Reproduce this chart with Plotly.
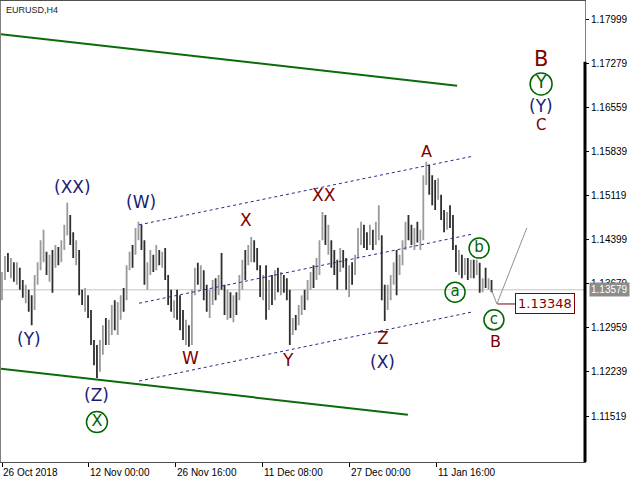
import plotly.graph_objects as go

# ---------------- data ----------------
OPEN = [1.1349,1.1380,1.1410,1.1387,1.1400,1.1371,1.1390,1.1367,1.1341,1.1354,
        1.1333,1.1328,1.1374,1.1397,1.1423,1.1415,1.1377,1.1410,1.1400,1.1423,
        1.1407,1.1429,1.1456,1.1475,1.1446,1.1403,1.1420,1.1354,1.1328,1.1345,
        1.1318,1.1273,1.1263,1.1230,1.1256,1.1305,1.1273,1.1292,1.1335,1.1292,
        1.1315,1.1354,1.1345,1.1394,1.1423,1.1420,1.1446,1.1459,1.1433,1.1364,
        1.1390,1.1410,1.1397,1.1420,1.1398,1.1420,1.1377,1.1349,1.1318,1.1351,
        1.1341,1.1318,1.1273,1.1296,1.1273,1.1354,1.1397,1.1364,1.1387,1.1358,
        1.1318,1.1341,1.1371,1.1354,1.1371,1.1361,1.1315,1.1348,1.1312,1.1348,
        1.1345,1.1364,1.1413,1.1403,1.1410,1.1433,1.1420,1.1394,1.1348,1.1390,
        1.1331,1.1374,1.1348,1.1387,1.1358,1.1377,1.1371,1.1351,1.1289,1.1312,
        1.1305,1.1322,1.1351,1.1345,1.1361,1.1390,1.1380,1.1390,1.1446,1.1472,
        1.1423,1.1433,1.1416,1.1400,1.1394,1.1416,1.1403,1.1354,1.1397,1.1387,
        1.1416,1.1439,1.1459,1.1446,1.1436,1.1452,1.1436,1.1459,1.1439,1.1358,
        1.1331,1.1348,1.1371,1.1403,1.1387,1.1403,1.1429,1.1472,1.1459,1.1429,
        1.1462,1.1429,1.1446,1.1534,1.1554,1.1537,1.1529,1.1511,1.1508,1.1482,
        1.1459,1.1488,1.1469,1.1426,1.1387,1.1410,1.1387,1.1403,1.1382,1.1400,
        1.1387,1.1397,1.1358,1.1377,1.1361,1.1371]
HIGH = [1.1387,1.1413,1.1418,1.1410,1.1403,1.1403,1.1394,1.1374,1.1366,1.1358,
        1.1349,1.1382,1.1403,1.1439,1.1456,1.1420,1.1415,1.1423,1.1431,1.1428,
        1.1439,1.1464,1.1500,1.1480,1.1452,1.1439,1.1423,1.1358,1.1361,1.1349,
        1.1325,1.1276,1.1268,1.1276,1.1300,1.1312,1.1309,1.1333,1.1341,1.1338,
        1.1349,1.1361,1.1398,1.1420,1.1431,1.1459,1.1469,1.1464,1.1439,1.1403,
        1.1423,1.1415,1.1431,1.1423,1.1420,1.1426,1.1382,1.1358,1.1341,1.1358,
        1.1349,1.1325,1.1309,1.1300,1.1358,1.1394,1.1402,1.1398,1.1390,1.1366,
        1.1358,1.1374,1.1377,1.1382,1.1418,1.1366,1.1358,1.1354,1.1349,1.1354,
        1.1382,1.1407,1.1423,1.1431,1.1444,1.1439,1.1426,1.1398,1.1382,1.1398,
        1.1374,1.1382,1.1390,1.1394,1.1387,1.1382,1.1377,1.1358,1.1312,1.1317,
        1.1333,1.1349,1.1358,1.1374,1.1387,1.1398,1.1410,1.1439,1.1485,1.1480,
        1.1464,1.1439,1.1423,1.1407,1.1426,1.1423,1.1410,1.1398,1.1403,1.1415,
        1.1459,1.1469,1.1464,1.1452,1.1464,1.1456,1.1469,1.1496,1.1447,1.1366,
        1.1366,1.1382,1.1403,1.1423,1.1415,1.1439,1.1469,1.1480,1.1464,1.1459,
        1.1469,1.1456,1.1545,1.1567,1.1562,1.1545,1.1537,1.1540,1.1513,1.1488,
        1.1485,1.1496,1.1480,1.1431,1.1423,1.1415,1.1410,1.1410,1.1407,1.1407,
        1.1407,1.1402,1.1377,1.1394,1.1377,1.1374]
LOW = [1.1341,1.1374,1.1387,1.1377,1.1371,1.1366,1.1358,1.1345,1.1336,1.1322,
       1.1300,1.1325,1.1366,1.1390,1.1403,1.1382,1.1371,1.1353,1.1394,1.1398,
       1.1403,1.1423,1.1447,1.1431,1.1410,1.1398,1.1349,1.1333,1.1322,1.1312,
       1.1268,1.1235,1.1214,1.1224,1.1252,1.1268,1.1268,1.1284,1.1292,1.1284,
       1.1309,1.1322,1.1341,1.1390,1.1394,1.1415,1.1439,1.1423,1.1366,1.1358,
       1.1382,1.1387,1.1390,1.1398,1.1394,1.1374,1.1333,1.1322,1.1312,1.1309,
       1.1292,1.1276,1.1268,1.1265,1.1268,1.1349,1.1366,1.1358,1.1341,1.1322,
       1.1312,1.1333,1.1341,1.1349,1.1358,1.1317,1.1309,1.1312,1.1305,1.1317,
       1.1341,1.1358,1.1374,1.1398,1.1403,1.1403,1.1390,1.1346,1.1341,1.1309,
       1.1325,1.1333,1.1341,1.1354,1.1349,1.1353,1.1341,1.1268,1.1284,1.1292,
       1.1300,1.1317,1.1325,1.1341,1.1358,1.1361,1.1374,1.1382,1.1439,1.1431,
       1.1415,1.1394,1.1382,1.1358,1.1387,1.1394,1.1358,1.1346,1.1366,1.1382,
       1.1410,1.1431,1.1426,1.1423,1.1431,1.1423,1.1431,1.1439,1.1341,1.1307,
       1.1325,1.1341,1.1366,1.1349,1.1382,1.1398,1.1423,1.1439,1.1431,1.1423,
       1.1435,1.1423,1.1439,1.1529,1.1513,1.1496,1.1488,1.1505,1.1472,1.1452,
       1.1456,1.1459,1.1423,1.1387,1.1382,1.1377,1.1382,1.1374,1.1377,1.1377,
       1.1382,1.1353,1.1354,1.1361,1.1358,1.1354]
CLOSE = [1.1380,1.1407,1.1390,1.1403,1.1374,1.1397,1.1361,1.1348,1.1361,1.1325,
         1.1312,1.1377,1.1400,1.1433,1.1446,1.1387,1.1410,1.1403,1.1426,1.1403,
         1.1433,1.1459,1.1488,1.1439,1.1416,1.1433,1.1354,1.1338,1.1354,1.1315,
         1.1276,1.1240,1.1227,1.1268,1.1296,1.1273,1.1305,1.1328,1.1299,1.1333,
         1.1345,1.1328,1.1394,1.1415,1.1398,1.1452,1.1464,1.1429,1.1371,1.1397,
         1.1416,1.1390,1.1426,1.1403,1.1415,1.1380,1.1338,1.1328,1.1338,1.1315,
         1.1299,1.1282,1.1302,1.1270,1.1351,1.1387,1.1371,1.1394,1.1348,1.1328,
         1.1351,1.1367,1.1348,1.1374,1.1361,1.1322,1.1351,1.1318,1.1345,1.1325,
         1.1377,1.1400,1.1380,1.1426,1.1439,1.1410,1.1397,1.1354,1.1374,1.1315,
         1.1367,1.1341,1.1384,1.1361,1.1380,1.1358,1.1348,1.1276,1.1309,1.1299,
         1.1328,1.1345,1.1331,1.1367,1.1382,1.1367,1.1403,1.1433,1.1475,1.1439,
         1.1456,1.1400,1.1387,1.1364,1.1420,1.1400,1.1364,1.1390,1.1374,1.1410,
         1.1452,1.1462,1.1433,1.1426,1.1459,1.1429,1.1464,1.1488,1.1349,1.1317,
         1.1358,1.1377,1.1398,1.1358,1.1410,1.1433,1.1462,1.1446,1.1436,1.1452,
         1.1439,1.1449,1.1537,1.1557,1.1521,1.1505,1.1496,1.1534,1.1478,1.1459,
         1.1480,1.1465,1.1429,1.1394,1.1416,1.1384,1.1403,1.1380,1.1400,1.1384,
         1.1402,1.1358,1.1374,1.1364,1.1374,1.1358]

TICK_POS = [0, 29.3, 58.6, 87.9, 117.2, 146.5]
TICK_LABELS = ["26 Oct 2018", "12 Nov 00:00", "26 Nov 16:00",
               "11 Dec 08:00", "27 Dec 00:00", "11 Jan 16:00"]
PRICE_TICKS = [1.17999, 1.17279, 1.16559, 1.15839, 1.15119,
               1.14399, 1.13679, 1.12959, 1.12239, 1.11519]
BID = 1.13579
TARGET = 1.13348
Y_RANGE = [1.10769, 1.18293]
X_RANGE = [-0.34, 196.5]
SCALE_BAR_TOP = 1.1730

# trend lines (bar index, price)
GREEN_LINES = [((-0.34, 1.1775), (153.4, 1.1691)),
               ((-0.34, 1.1229), (136.8, 1.1154))]
CHANNEL = [((46.2, 1.1464), (158.7, 1.1576)),
           ((46.2, 1.1336), (158.7, 1.1449)),
           ((46.2, 1.1209), (158.7, 1.1322))]
PROJ_X = [165, 166.8, 176.9]
PROJ_Y = [BID, TARGET, 1.1459]

NAVY_LABELS = [("(XX)", 23.9, 1.1526), ("(W)", 46.8, 1.1502), ("(Y)", 9.1, 1.1278),
               ("(Z)", 32.0, 1.1186), ("(X)", 128.4, 1.1240), ("(Y)", 181.7, 1.1658)]
RED_LABELS = [("X", 82.2, 1.1472, 17), ("XX", 108.5, 1.1513, 17), ("W", 63.4, 1.1247, 17),
              ("Y", 96.4, 1.1243, 17), ("Z", 128.4, 1.1279, 17), ("A", 143.2, 1.1584, 16),
              ("B", 166.5, 1.1274, 16), ("B", 181.7, 1.1735, 21), ("C", 181.7, 1.1627, 15)]
CIRCLED = [("X", 32.0, 1.1142, 21, 16), ("Y", 181.7, 1.1694, 22, 17),
           ("a", 152.7, 1.1354, 20, 15), ("b", 160.8, 1.1426, 20, 15),
           ("c", 165.8, 1.1309, 20, 15)]

NAVY = "#1c1c78"
MAROON = "#800000"
GREEN = "#006400"
FONT = "DejaVu Sans"
TFONT = "Liberation Sans"

fig = go.Figure()
fig.add_trace(go.Ohlc(
    x=list(range(len(OPEN))), open=OPEN, high=HIGH, low=LOW, close=CLOSE,
    increasing=dict(line=dict(color="#9a9a9a", width=1.8)),
    decreasing=dict(line=dict(color="#2e2e2e", width=1.8)),
    tickwidth=0.2, hoverinfo="skip", showlegend=False))

shapes = []
shapes.append(dict(type="line", xref="paper", x0=0, x1=1, yref="y", y0=BID, y1=BID,
                   line=dict(color="#c4c4c4", width=1), layer="below"))
for (a, b) in GREEN_LINES:
    shapes.append(dict(type="line", xref="x", yref="y", x0=a[0], y0=a[1], x1=b[0], y1=b[1],
                       line=dict(color="#0b6b0b", width=2)))
for (a, b) in CHANNEL:
    shapes.append(dict(type="line", xref="x", yref="y", x0=a[0], y0=a[1], x1=b[0], y1=b[1],
                       line=dict(color="#2a2a8a", width=1, dash="dot")))
shapes.append(dict(type="line", xref="x", yref="y", x0=PROJ_X[1] + 0.2, x1=173.0,
                   y0=TARGET, y1=TARGET, line=dict(color=MAROON, width=1)))
# price-scale bar on the right edge
shapes.append(dict(type="line", xref="paper", yref="y", x0=1, x1=1,
                   y0=Y_RANGE[0], y1=SCALE_BAR_TOP, xanchor=1, line=dict(color="black", width=3)))
fig.update_layout(shapes=shapes)

fig.add_trace(go.Scatter(x=PROJ_X, y=PROJ_Y, mode="lines", line=dict(color="#8a929c", width=1),
                         hoverinfo="skip", showlegend=False))

for txt, x, y, size, fs in CIRCLED:
    fig.add_trace(go.Scatter(x=[x], y=[y], mode="markers+text", text=[txt],
                             textposition="middle center",
                             marker=dict(symbol="circle-open", size=size, color=GREEN,
                                         line=dict(color=GREEN, width=1.5)),
                             textfont=dict(family=FONT, size=fs, color=GREEN),
                             cliponaxis=False, hoverinfo="skip", showlegend=False))

ann = []
for txt, x, y in NAVY_LABELS:
    ann.append(dict(text=txt, x=x, y=y, xref="x", yref="y", showarrow=False,
                    font=dict(family=FONT, size=17, color=NAVY)))
for txt, x, y, fs in RED_LABELS:
    ann.append(dict(text=txt, x=x, y=y, xref="x", yref="y", showarrow=False,
                    font=dict(family=FONT, size=fs, color=MAROON)))
ann.append(dict(text="1.13348", x=173.0, y=TARGET, xref="x", yref="y", xanchor="left",
                showarrow=False, bordercolor=MAROON, borderwidth=1, borderpad=2,
                bgcolor="white", font=dict(family=FONT, size=13, color=MAROON)))
ann.append(dict(text="EURUSD,H4", x=0, y=1, xref="paper", yref="paper", xanchor="left",
                yanchor="top", xshift=3, yshift=-2, showarrow=False,
                font=dict(family=TFONT, size=9, color="#222222")))
for p, lab in zip(TICK_POS, TICK_LABELS):
    ann.append(dict(text=lab, x=p, y=0, xref="x", yref="paper", xanchor="left",
                    yanchor="top", yshift=-3, xshift=-1, showarrow=False,
                    font=dict(family=TFONT, size=10, color="black")))
ann.append(dict(text="1.13579", x=1, y=BID, xref="paper", yref="y", xanchor="left",
                xshift=4, showarrow=False, bgcolor="#8c8c8c", borderpad=1,
                font=dict(family=TFONT, size=10, color="white")))
fig.update_layout(annotations=ann)

fig.update_layout(
    width=640, height=480, margin=dict(l=1, r=55, t=1, b=18),
    plot_bgcolor="white", paper_bgcolor="white",
    xaxis=dict(range=X_RANGE, tickvals=TICK_POS, showticklabels=False, ticks="outside",
               ticklen=4, tickcolor="black", showgrid=False, zeroline=False,
               showline=True, linecolor="#505050", mirror=True,
               rangeslider=dict(visible=False)),
    yaxis=dict(range=Y_RANGE, side="right", tickvals=PRICE_TICKS,
               ticktext=[f"{v:.5f}" for v in PRICE_TICKS], ticks="outside",
               ticklen=3, tickcolor="black", showgrid=False, zeroline=False,
               showline=True, linecolor="#808080", mirror=True,
               tickfont=dict(family=TFONT, size=10, color="black")),
)

fig.write_html("out.html", config={"displayModeBar": False},
               post_script="document.body.style.margin='0px';")
